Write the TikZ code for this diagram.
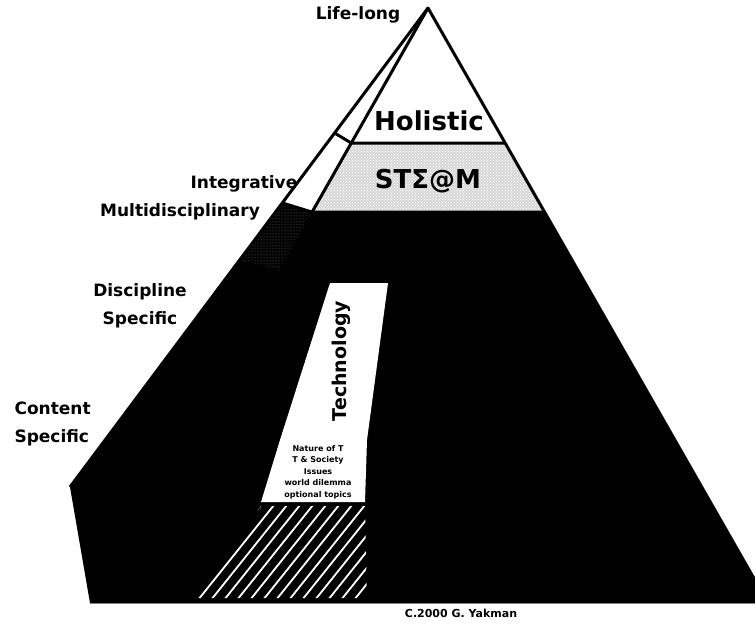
\documentclass[tikz,border=0pt]{standalone}
\usepackage{fontspec}
\setmainfont{DejaVu Sans}
\usetikzlibrary{calc,patterns}

\tikzset{
  lvl/.style={font=\bfseries\fontsize{17}{28}\selectfont},
  band/.style={font=\bfseries\fontsize{26}{28}\selectfont},
  edge/.style={line width=3pt,line join=round},
}

\begin{document}
\begin{tikzpicture}[x=1pt,y=-1pt]
\clip (0,0) rectangle (755,624);
\fill[white] (0,0) rectangle (755,624);
% corners of the pyramid
\coordinate (apex) at (428,8);
\coordinate (back) at (70,487);
\coordinate (fl) at (90,603);
\coordinate (fr) at (768,603);
% points on the edges
\coordinate (o1) at ($(apex)!0.261!(back)$);
\coordinate (o2) at ($(apex)!0.407!(back)$);
\coordinate (o3) at ($(apex)!0.526!(back)$);
\coordinate (f1) at ($(apex)!0.227!(fl)$);
\coordinate (f2) at ($(apex)!0.343!(fl)$);
\coordinate (f3) at ($(apex)!0.44!(fl)$);
\coordinate (r1) at ($(apex)!0.227!(fr)$);
\coordinate (r2) at ($(apex)!0.343!(fr)$);

\fill[black] (apex) -- (back) -- (fl) -- (fr) -- cycle;
\fill[pattern=dots,pattern color=gray] (o2) -- (o3) -- (f3) -- (f2) -- cycle;
\fill[white] (apex) -- (o2) -- (f2) -- cycle;
\fill[white] (apex) -- (f1) -- (r1) -- cycle;
\fill[gray!30] (f1) -- (r1) -- (r2) -- (f2) -- cycle;
\fill[pattern=crosshatch dots,pattern color=white] (f1) -- (r1) -- (r2) -- (f2) -- cycle;

\draw[edge] (back) -- (apex) -- (fr);
\draw[edge] (apex) -- (f2);
\draw[edge] (o1) -- (f1) -- (r1);
\draw[edge] (o2) -- (f2) -- (r2);
\draw[gray,line width=1pt] (fl) -- (fr);

% technology strand
\fill[white] (330,283) -- (388,283) -- (367,440) -- (280,440) -- cycle;
\node[font=\bfseries\fontsize{19}{21}\selectfont,rotate=90] (tech) at (341,361) {Technology};
\fill[white] (280,440) -- (367,440) -- (365,502) -- (261,502) -- cycle;
\node[font=\bfseries\fontsize{8}{11.5}\selectfont,align=center] (nat) at (318,472)
  {Nature of T\\T \& Society\\Issues\\world dilemma\\optional topics};
\begin{scope}
  \clip (261,506) -- (365,506) -- (367,598) -- (197,598) -- cycle;
  \foreach \k in {0,...,20}
    \draw[white,line width=1.8pt] (120+\k*13,600) -- (200+\k*13,500);
\end{scope}

% levels
\node[band] (hol) at (429,121) {Holistic};
\node[band] (stem) at (428,181) {STΣ@M};
\node[lvl] (life) at (358,15) {Life-long};
\node[lvl] (integ) at (244,184) {Integrative};
\node[lvl] (multi) at (180,212) {Multidisciplinary};
\node[lvl,align=center] (disc) at (140,306) {Discipline\\Specific};
\node[lvl,align=left,anchor=west] (cont) at (11,424) {Content\\Specific};
\node[font=\bfseries\fontsize{11}{13}\selectfont] (copy) at (461,613) {C.2000 G. Yakman};
\end{tikzpicture}
\end{document}
